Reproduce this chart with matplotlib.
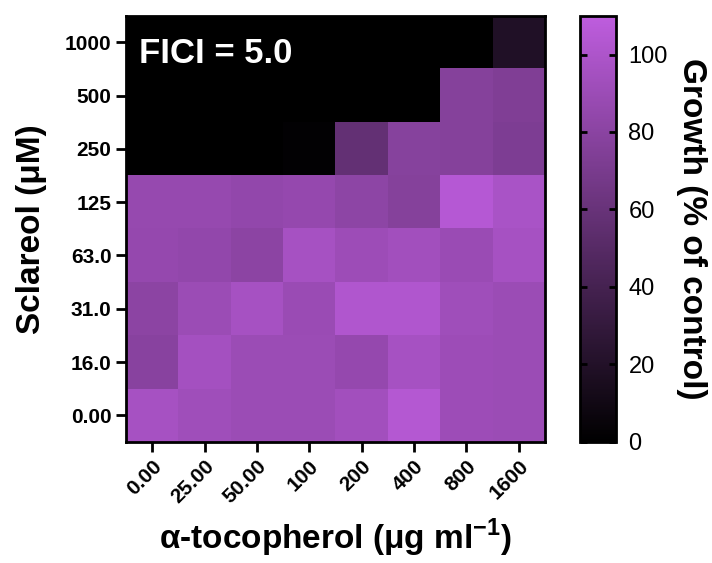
import numpy as np
import matplotlib.pyplot as plt
from matplotlib.colors import LinearSegmentedColormap

plt.rcParams['font.family'] = ['Liberation Sans', 'DejaVu Sans']
plt.rcParams['mathtext.fontset'] = 'custom'
plt.rcParams['mathtext.rm'] = 'Liberation Sans'
plt.rcParams['mathtext.bf'] = 'Liberation Sans:bold'

# concentrations
tocopherol = ['0.00', '25.00', '50.00', '100', '200', '400', '800', '1600']
sclareol = ['1000', '500', '250', '125', '63.0', '31.0', '16.0', '0.00']

# growth (% of control), rows top -> bottom
row_1000 = [0, 0, 0, 0, 0, 0, 0, 19]
row_500 = [0, 0, 0, 0, 0, 0, 77, 74]
row_250 = [0, 0, 0, 2, 58, 78, 77, 73]
row_125 = [87, 87, 85, 86, 82, 77, 105, 98]
row_63 = [86, 85, 81, 96, 91, 94, 89, 96]
row_31 = [81, 90, 96, 89, 102, 102, 92, 90]
row_16 = [79, 95, 90, 90, 86, 96, 91, 90]
row_0 = [96, 92, 90, 90, 94, 104, 91, 90]

growth = np.array([row_1000, row_500, row_250, row_125, row_63, row_31, row_16, row_0])

cmap = LinearSegmentedColormap.from_list('purple', ['#000000', '#BE5DDE'])

fig = plt.figure(figsize=(7.12, 5.63), dpi=100)
ax = fig.add_axes([0.177, 0.215, 0.588, 0.757])
cax = fig.add_axes([0.815, 0.215, 0.050, 0.757])

im = ax.imshow(growth, cmap=cmap, vmin=0, vmax=110, aspect='auto', interpolation='nearest')

ax.set_xticks(range(len(tocopherol)))
ax.set_xticklabels(tocopherol, rotation=45, ha='right', rotation_mode='anchor', fontsize=15, fontweight='bold')
ax.set_yticks(range(len(sclareol)))
ax.set_yticklabels(sclareol, fontsize=15, fontweight='bold')
ax.tick_params(width=2, length=7)
for s in ax.spines.values():
    s.set_linewidth(2)

ax.set_xlabel('α-tocopherol (μg ml$^{\\mathbf{-1}}$)', fontsize=24, fontweight='bold', labelpad=7)
ax.set_ylabel('Sclareol (μM)', fontsize=24, fontweight='bold', labelpad=13)

ax.text(0.03, 0.95, 'FICI = 5.0', transform=ax.transAxes, color='white',
        fontsize=25, fontweight='bold', va='top', ha='left')

cb = fig.colorbar(im, cax=cax)
cb.set_ticks([0, 20, 40, 60, 80, 100])
cb.ax.tick_params(labelsize=17, width=2, length=5, direction='in', left=True, pad=9)
cb.outline.set_linewidth(2)
cb.set_label('Growth (% of control)', rotation=270, fontsize=24, fontweight='bold', labelpad=28)

fig.savefig('out.png', dpi=100)
